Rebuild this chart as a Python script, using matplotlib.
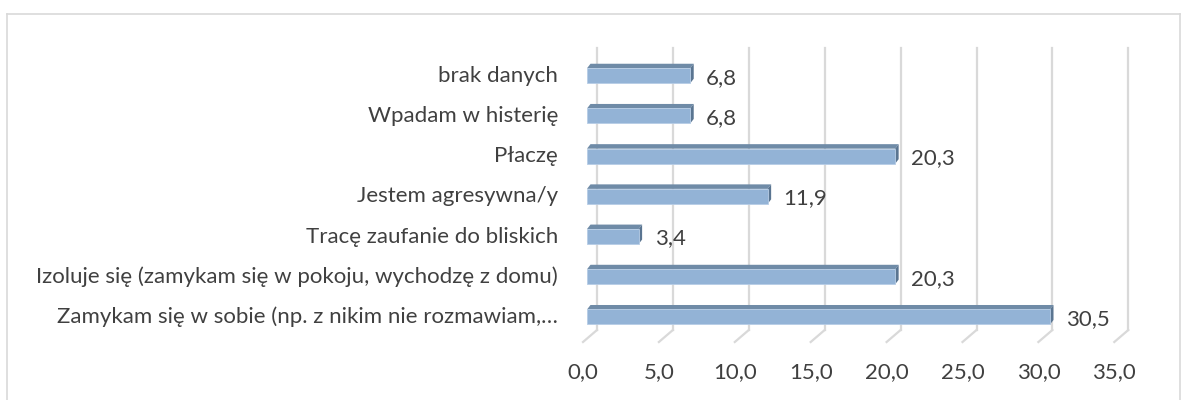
import matplotlib
matplotlib.use('Agg')
import matplotlib.pyplot as plt
from matplotlib.patches import Polygon
from matplotlib.lines import Line2D

# Data (bottom to top)
categories = [
    'Zamykam się w sobie (np. z nikim nie rozmawiam,…',
    'Izoluje się (zamykam się w pokoju, wychodzę z domu)',
    'Tracę zaufanie do bliskich',
    'Jestem agresywna/y',
    'Płaczę',
    'Wpadam w histerię',
    'brak danych',
]
values = [30.5, 20.3, 3.4, 11.9, 20.3, 6.8, 6.8]
x_ticks = [0, 5, 10, 15, 20, 25, 30, 35]

W, H, DPI = 1182, 400, 100
front = '#93B3D6'
top_c = '#6F8BA7'
side_c = '#5A7591'
grid_c = '#D9D9D9'
text_c = '#404040'
font = 'Lato'
fs = 16

fig = plt.figure(figsize=(W / DPI, H / DPI), dpi=DPI, facecolor='white')

# axes placed in pixel terms
x0, x1 = 587, 587 + 35 * 15.18
y_top, y_bot = 48, 342
ax = fig.add_axes([x0 / W, (H - y_bot) / H, (x1 - x0) / W, (y_bot - y_top) / H])
ax.set_xlim(0, 35)
ax.set_ylim(-0.622, 6.69)
ax.axis('off')

kx = 35 / (x1 - x0)              # data units per pixel (x)
ky = (6.69 + 0.622) / (y_bot - y_top)  # data units per pixel (y)

# back wall gridlines and floor slants
y_back_bot = -0.622 + 12 * ky
for t in x_ticks:
    ax.add_line(Line2D([t + 10 * kx, t + 10 * kx], [y_back_bot, 6.69],
                       color=grid_c, lw=1.6, zorder=1, clip_on=False))
    ax.add_line(Line2D([t + 10 * kx, t - 4 * kx], [y_back_bot, -0.622],
                       color=grid_c, lw=1.6, zorder=1, clip_on=False))
    ax.text(t - 4 * kx, -0.622 - 30 * ky, f'{t:.1f}'.replace('.', ','),
            ha='center', va='center', fontsize=fs, color=text_c, family=font)

# 3D-ish bars
bh = 15 * ky
dx, dy = 3.5 * kx, 4.5 * ky
for i, v in enumerate(values):
    yb, yt = i - bh / 2, i + bh / 2
    ax.add_patch(Polygon([(0, yt), (v, yt), (v + dx, yt + dy), (dx, yt + dy)],
                         closed=True, facecolor=top_c, edgecolor='none', zorder=3))
    ax.add_patch(Polygon([(v, yb), (v + dx, yb + dy), (v + dx, yt + dy), (v, yt)],
                         closed=True, facecolor=side_c, edgecolor='none', zorder=3))
    ax.barh(i, v, height=bh, color=front, edgecolor='#B7CDE6', linewidth=0.6, zorder=4)
    ax.text(v + 16 * kx, i - 2 * ky, f'{v:.1f}'.replace('.', ','), ha='left', va='center',
            fontsize=fs, color=text_c, family=font)
    ax.text(-29 * kx, i, categories[i], ha='right', va='center',
            fontsize=fs, color=text_c, family=font)

# chart border
fig.add_artist(Line2D([7 / W, 1180 / W], [(H - 14) / H, (H - 14) / H],
                      transform=fig.transFigure, color='#D9D9D9', lw=1.2))
fig.add_artist(Line2D([7 / W, 7 / W], [(H - 14) / H, 0],
                      transform=fig.transFigure, color='#D9D9D9', lw=1.2))
fig.add_artist(Line2D([1180 / W, 1180 / W], [(H - 14) / H, 0],
                      transform=fig.transFigure, color='#D9D9D9', lw=1.2))

fig.savefig('out.png', dpi=DPI, facecolor='white')
